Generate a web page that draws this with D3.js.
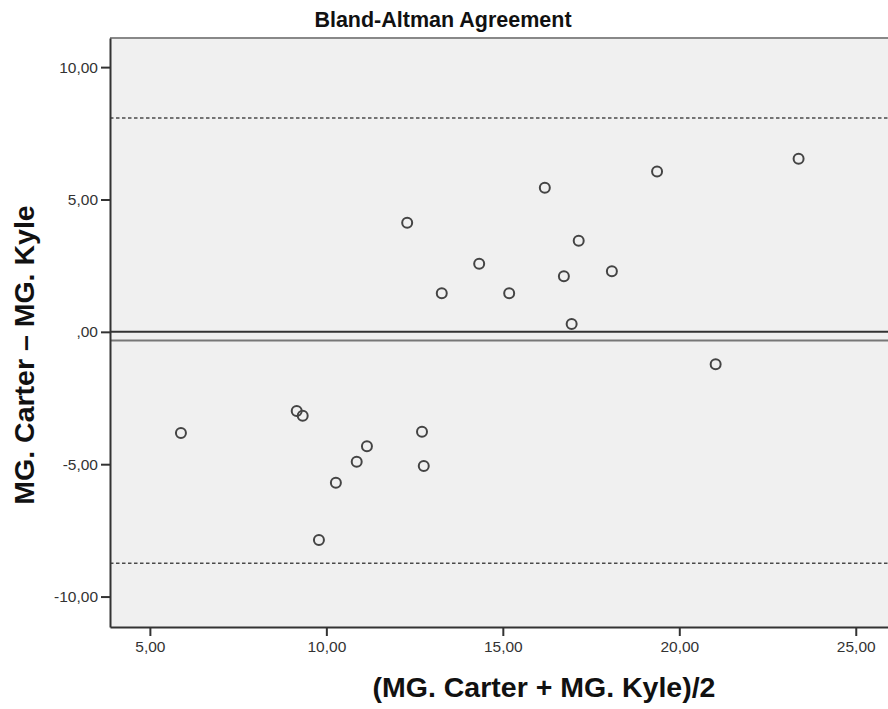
<!DOCTYPE html>
<html>
<head>
<meta charset="utf-8">
<script src="https://cdn.jsdelivr.net/npm/d3@7"></script>
<style>
  html, body { margin: 0; padding: 0; background: #fff; }
  svg { display: block; font-family: "Liberation Sans", Arial, sans-serif; }
</style>
</head>
<body>
<svg id="chart" width="888" height="709"></svg>
<script>
// ---- data ----
const meanValues = [5.88, 9.16, 9.33, 9.79, 10.27, 10.86, 11.15, 12.29, 12.71, 12.76,
                    13.27, 14.33, 15.18, 16.19, 16.73, 16.95, 17.15, 18.09, 19.37, 21.03, 23.38];
const diffValues = [-3.82, -2.99, -3.17, -7.86, -5.70, -4.91, -4.32, 4.12, -3.77, -5.07,
                    1.46, 2.57, 1.46, 5.44, 2.10, 0.30, 3.44, 2.29, 6.06, -1.22, 6.54];
const meanDiff = -0.33;
const upperLoA = 8.08;
const lowerLoA = -8.74;
const xTicks = [5, 10, 15, 20, 25];
const xTickLabels = ["5,00", "10,00", "15,00", "20,00", "25,00"];
const yTicks = [10, 5, 0, -5, -10];
const yTickLabels = ["10,00", "5,00", ",00", "-5,00", "-10,00"];
const titleText = "Bland-Altman Agreement";
const xLabel = "(MG. Carter + MG. Kyle)/2";
const yLabel = "MG. Carter \u2013 MG. Kyle";

(function () {
// ---- layout ----
const pL = 110, pR = 890, pT = 38, pB = 627;
const svg = d3.select("#chart");

const x = d3.scaleLinear().domain([3.87, 25.97]).range([pL, pR]);
const y = d3.scaleLinear().domain([-11.15, 11.1]).range([pB, pT]);

// plot background
svg.append("rect")
  .attr("x", pL).attr("y", pT)
  .attr("width", pR - pL).attr("height", pB - pT)
  .attr("fill", "#f0f0f0");

// top border
svg.append("line")
  .attr("x1", pL).attr("x2", pR).attr("y1", pT).attr("y2", pT)
  .attr("stroke", "#888").attr("stroke-width", 2);

// reference lines
svg.append("line")
  .attr("x1", pL).attr("x2", pR).attr("y1", y(upperLoA)).attr("y2", y(upperLoA))
  .attr("stroke", "#4a4a4a").attr("stroke-width", 1.4).attr("stroke-dasharray", "3.5,2.5");
svg.append("line")
  .attr("x1", pL).attr("x2", pR).attr("y1", y(lowerLoA)).attr("y2", y(lowerLoA))
  .attr("stroke", "#4a4a4a").attr("stroke-width", 1.4).attr("stroke-dasharray", "3.5,2.5");
svg.append("line")
  .attr("x1", pL).attr("x2", pR).attr("y1", y(0)).attr("y2", y(0))
  .attr("stroke", "#333").attr("stroke-width", 2);
svg.append("line")
  .attr("x1", pL).attr("x2", pR).attr("y1", y(meanDiff)).attr("y2", y(meanDiff))
  .attr("stroke", "#777").attr("stroke-width", 2);

// axes
const xAxis = d3.axisBottom(x).tickValues(xTicks)
  .tickFormat((d, i) => xTickLabels[i]).tickSize(9).tickSizeOuter(0).tickPadding(5);
const yAxis = d3.axisLeft(y).tickValues(yTicks)
  .tickFormat((d, i) => yTickLabels[i]).tickSize(9).tickSizeOuter(0).tickPadding(3);

const gx = svg.append("g").attr("transform", `translate(0,${pB})`).call(xAxis);
const gy = svg.append("g").attr("transform", `translate(${pL},0)`).call(yAxis);
[gx, gy].forEach(g => {
  g.attr("font-size", null).attr("font-family", null);
  g.select(".domain").attr("stroke", "#333").attr("stroke-width", 2);
  g.selectAll(".tick line").attr("stroke", "#333").attr("stroke-width", 2);
  g.selectAll(".tick text").attr("fill", "#333")
    .style("font-size", "15.5px").style("font-family", "'Liberation Sans', Arial, sans-serif");
});

// points
svg.append("g").selectAll("circle")
  .data(meanValues.map((m, i) => [m, diffValues[i]]))
  .join("circle")
  .attr("cx", d => x(d[0])).attr("cy", d => y(d[1]))
  .attr("r", 5)
  .attr("fill", "none").attr("stroke", "#444").attr("stroke-width", 2);

// title
svg.append("text")
  .attr("x", 443).attr("y", 27)
  .attr("text-anchor", "middle")
  .style("font-size", "21.5px").style("font-weight", "bold").attr("fill", "#111")
  .text(titleText);

// x label
svg.append("text")
  .attr("x", 544).attr("y", 697)
  .attr("text-anchor", "middle")
  .style("font-size", "28.5px").style("font-weight", "bold").attr("fill", "#111")
  .text(xLabel);

// y label
svg.append("text")
  .attr("transform", "translate(34,355) rotate(-90)")
  .attr("text-anchor", "middle")
  .style("font-size", "28.5px").style("font-weight", "bold").attr("fill", "#111")
  .text(yLabel);
})();
</script>
</body>
</html>
